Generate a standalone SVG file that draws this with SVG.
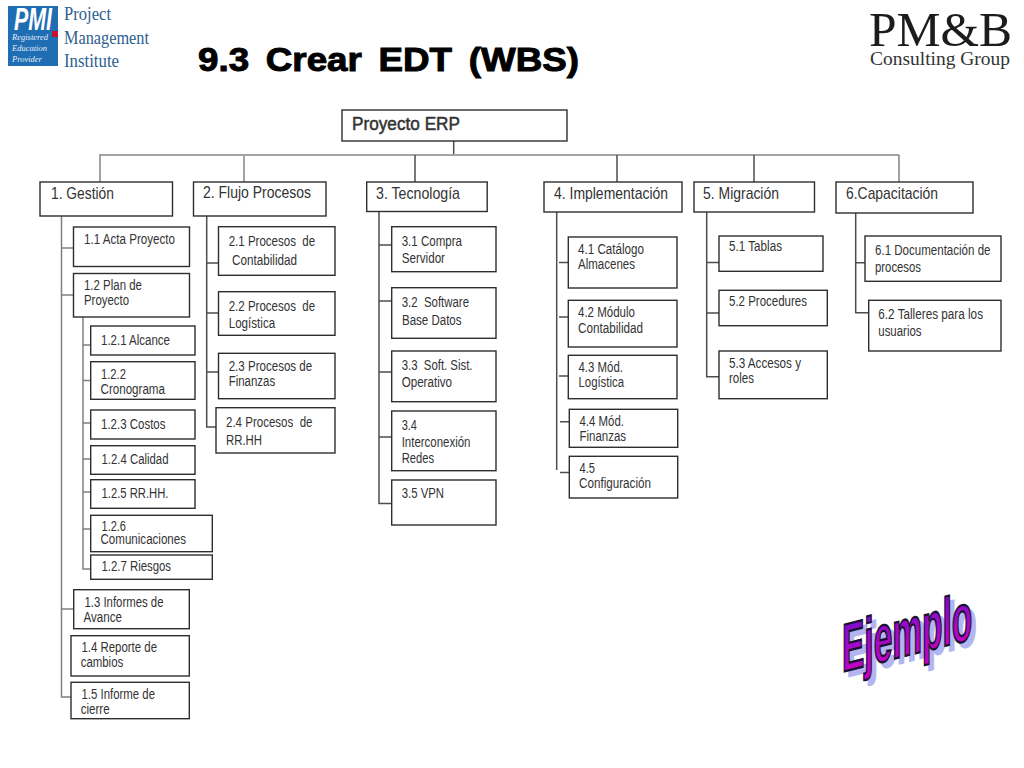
<svg xmlns="http://www.w3.org/2000/svg" width="1024" height="768" viewBox="0 0 1024 768">
<style>
rect.b{fill:#fff;stroke:#2e2e2e;stroke-width:1.4}
text{font-family:"Liberation Sans",Arial,sans-serif;fill:#333;white-space:pre}
.t{font-size:14px}
.h{font-size:17px}
#connectors path{fill:none;stroke:#4d4d4d;stroke-width:1.5}
#connectors path.g{stroke:#a3a3a3;stroke-width:2}
#connectors path.m{stroke:#808080;stroke-width:1.5}
.serif{font-family:"Liberation Serif",serif}
</style>
<defs>
<linearGradient id="ej" x1="0" y1="0" x2="0" y2="1"><stop offset="0" stop-color="#6a10d0"/><stop offset="0.55" stop-color="#a808c8"/><stop offset="1" stop-color="#d000c0"/></linearGradient>
</defs>
<rect width="1024" height="768" fill="#fff"/>

<g id="logo-pmi">
<rect x="8" y="6" width="50" height="60" fill="#1f6db3"/>
<rect x="52" y="31" width="6" height="6" fill="#c8102e"/>
<text x="14" y="30" font-size="31" font-weight="700" font-style="italic" textLength="38" lengthAdjust="spacingAndGlyphs" style="fill:#fff">PMI</text>
<text class="serif" x="12" y="40" font-size="8.5" font-style="italic" style="fill:#e6eef7">Registered</text>
<text class="serif" x="12" y="51" font-size="8.5" font-style="italic" style="fill:#e6eef7">Education</text>
<text class="serif" x="12" y="62" font-size="8.5" font-style="italic" style="fill:#e6eef7">Provider</text>
<text class="serif" x="64" y="20" font-size="19" textLength="47" lengthAdjust="spacingAndGlyphs" style="fill:#2d5f8f">Project</text>
<text class="serif" x="64" y="44" font-size="19" textLength="85" lengthAdjust="spacingAndGlyphs" style="fill:#2d5f8f">Management</text>
<text class="serif" x="64" y="67" font-size="19" textLength="55" lengthAdjust="spacingAndGlyphs" style="fill:#2d5f8f">Institute</text>
</g>

<g id="logo-pmb">
<text class="serif" x="869" y="46" font-size="49" textLength="143" lengthAdjust="spacingAndGlyphs" style="fill:#1c1c1c">PM&amp;B</text>
<text class="serif" x="870" y="65" font-size="19" textLength="140" lengthAdjust="spacingAndGlyphs" style="fill:#333">Consulting Group</text>
</g>

<text id="title" x="198" y="71" font-size="34" font-weight="700" word-spacing="6" textLength="381" lengthAdjust="spacingAndGlyphs" style="fill:#000;stroke:#000;stroke-width:1">9.3 Crear EDT (WBS)</text>

<g id="connectors">
<path class="g" d="M99 155H899M100 155V182M244 155V182"/>
<path d="M453.7 141V154M415 155V182M617 155V182M754 155V182"/>
<path class="m" d="M899 155V182"/>
<path class="m" d="M61.5 216V697H71M61.5 248H74M61.5 295H74M61.5 609H74"/>
<path class="m" d="M83 317V569H91M83 345H91M83 380.5H91M83 423H91M83 459H91M83 492H91M83 529H91"/>
<path d="M206.7 216V427H216M206.7 263H218M206.7 313H218M206.7 372H218"/>
<path d="M379 212V503.5H392M379 245H392M379 301H392M379 372H392M379 437H392"/>
<path d="M556.7 212V470M559 262.5H568M559 317H568M559 376H568M560 421.7H569M560 472.5H569"/>
<path d="M706.7 212V376.7H719M706.7 262.5H719M706.7 313H719"/>
<path d="M855.7 213V312.7H869M855.7 262.7H865"/>
</g>

<g id="n0"><rect class="b" x="342" y="110" width="225" height="31"/><text x="352" y="129.5" font-size="18" textLength="108" lengthAdjust="spacingAndGlyphs" style="stroke:#333;stroke-width:.5">Proyecto ERP</text></g>

<g id="n1"><rect class="b" x="40" y="182" width="132.5" height="34"/><text class="h" x="51" y="199" textLength="63" lengthAdjust="spacingAndGlyphs">1. Gestión</text></g>
<g id="n2"><rect class="b" x="193.5" y="182" width="132.5" height="34"/><text class="h" x="203" y="198" textLength="108" lengthAdjust="spacingAndGlyphs">2. Flujo Procesos</text></g>
<g id="n3"><rect class="b" x="366.7" y="182" width="120.5" height="29.5"/><text class="h" x="376" y="199" textLength="84" lengthAdjust="spacingAndGlyphs">3. Tecnología</text></g>
<g id="n4"><rect class="b" x="544" y="182" width="138" height="30"/><text class="h" x="554" y="199" textLength="114" lengthAdjust="spacingAndGlyphs">4. Implementación</text></g>
<g id="n5"><rect class="b" x="694" y="182" width="120.5" height="30"/><text class="h" x="703" y="199" textLength="76" lengthAdjust="spacingAndGlyphs">5. Migración</text></g>
<g id="n6"><rect class="b" x="836" y="182" width="137" height="31"/><text class="h" x="846" y="199" textLength="92" lengthAdjust="spacingAndGlyphs">6.Capacitación</text></g>

<g id="n1-1"><rect class="b" x="73.5" y="227" width="116" height="39.5"/><text class="t" x="84" y="244" textLength="91" lengthAdjust="spacingAndGlyphs">1.1 Acta Proyecto</text></g>
<g id="n1-2"><rect class="b" x="73.5" y="273.5" width="116" height="43.5"/><text class="t" x="84" y="290" textLength="58" lengthAdjust="spacingAndGlyphs">1.2 Plan de</text><text class="t" x="84" y="305" textLength="45" lengthAdjust="spacingAndGlyphs">Proyecto</text></g>
<g id="n1-2-1"><rect class="b" x="90.7" y="326" width="104.3" height="29"/><text class="t" x="101" y="344.5" textLength="69" lengthAdjust="spacingAndGlyphs">1.2.1 Alcance</text></g>
<g id="n1-2-2"><rect class="b" x="90.7" y="361.7" width="104.3" height="37.6"/><text class="t" x="101" y="379" textLength="25" lengthAdjust="spacingAndGlyphs">1.2.2</text><text class="t" x="100.5" y="394" textLength="64.5" lengthAdjust="spacingAndGlyphs">Cronograma</text></g>
<g id="n1-2-3"><rect class="b" x="90.7" y="410" width="104.3" height="29"/><text class="t" x="101" y="428.5" textLength="64.5" lengthAdjust="spacingAndGlyphs">1.2.3 Costos</text></g>
<g id="n1-2-4"><rect class="b" x="90.7" y="445.7" width="104.3" height="28.6"/><text class="t" x="101.5" y="464" textLength="67" lengthAdjust="spacingAndGlyphs">1.2.4 Calidad</text></g>
<g id="n1-2-5"><rect class="b" x="90.7" y="479.7" width="104.3" height="28.6"/><text class="t" x="101.5" y="498" textLength="67" lengthAdjust="spacingAndGlyphs">1.2.5 RR.HH.</text></g>
<g id="n1-2-6"><rect class="b" x="90.7" y="515.3" width="121.6" height="36.4"/><text class="t" x="101.5" y="531" textLength="24.5" lengthAdjust="spacingAndGlyphs">1.2.6</text><text class="t" x="100.5" y="544" textLength="85.5" lengthAdjust="spacingAndGlyphs">Comunicaciones</text></g>
<g id="n1-2-7"><rect class="b" x="90.7" y="555" width="121.6" height="24.3"/><text class="t" x="101.5" y="570.5" textLength="69.5" lengthAdjust="spacingAndGlyphs">1.2.7 Riesgos</text></g>
<g id="n1-3"><rect class="b" x="73.7" y="589.7" width="115.6" height="39"/><text class="t" x="84.5" y="606.7" textLength="79" lengthAdjust="spacingAndGlyphs">1.3 Informes de</text><text class="t" x="83.5" y="621.7" textLength="38.5" lengthAdjust="spacingAndGlyphs">Avance</text></g>
<g id="n1-4"><rect class="b" x="71" y="635.7" width="118.3" height="40.3"/><text class="t" x="81.5" y="652.3" textLength="75.5" lengthAdjust="spacingAndGlyphs">1.4 Reporte de</text><text class="t" x="80.7" y="667.3" textLength="42.5" lengthAdjust="spacingAndGlyphs">cambios</text></g>
<g id="n1-5"><rect class="b" x="71" y="682.3" width="118.3" height="36.4"/><text class="t" x="81.5" y="699.3" textLength="73.5" lengthAdjust="spacingAndGlyphs">1.5 Informe de</text><text class="t" x="80.7" y="714" textLength="29" lengthAdjust="spacingAndGlyphs">cierre</text></g>

<g id="n2-1"><rect class="b" x="218.5" y="226.7" width="116.5" height="48.6"/><text class="t" x="228.7" y="246" textLength="86.5" lengthAdjust="spacingAndGlyphs">2.1 Procesos  de</text><text class="t" x="232" y="265" textLength="65" lengthAdjust="spacingAndGlyphs">Contabilidad</text></g>
<g id="n2-2"><rect class="b" x="218.5" y="291.7" width="116.5" height="43.6"/><text class="t" x="228.7" y="311" textLength="86.5" lengthAdjust="spacingAndGlyphs">2.2 Procesos  de</text><text class="t" x="228.7" y="327.5" textLength="46.5" lengthAdjust="spacingAndGlyphs">Logística</text></g>
<g id="n2-3"><rect class="b" x="218.5" y="353.3" width="116.5" height="45.4"/><text class="t" x="228.7" y="370.7" textLength="83.5" lengthAdjust="spacingAndGlyphs">2.3 Procesos de</text><text class="t" x="228.7" y="386" textLength="46.5" lengthAdjust="spacingAndGlyphs">Finanzas</text></g>
<g id="n2-4"><rect class="b" x="216" y="407.7" width="119" height="45.3"/><text class="t" x="226" y="426.7" textLength="86.5" lengthAdjust="spacingAndGlyphs">2.4 Procesos  de</text><text class="t" x="226" y="445" textLength="36" lengthAdjust="spacingAndGlyphs">RR.HH</text></g>

<g id="n3-1"><rect class="b" x="391.7" y="226.7" width="104.3" height="45"/><text class="t" x="401.7" y="245.7" textLength="60.3" lengthAdjust="spacingAndGlyphs">3.1 Compra</text><text class="t" x="401.7" y="262.7" textLength="43.3" lengthAdjust="spacingAndGlyphs">Servidor</text></g>
<g id="n3-2"><rect class="b" x="391.7" y="287.7" width="104.3" height="50.6"/><text class="t" x="401.7" y="306.7" textLength="67.3" lengthAdjust="spacingAndGlyphs">3.2  Software</text><text class="t" x="402" y="325" textLength="59.5" lengthAdjust="spacingAndGlyphs">Base Datos</text></g>
<g id="n3-3"><rect class="b" x="391.7" y="351" width="104.3" height="50.7"/><text class="t" x="401.7" y="370" textLength="70.8" lengthAdjust="spacingAndGlyphs">3.3  Soft. Sist.</text><text class="t" x="401.7" y="386.7" textLength="50.3" lengthAdjust="spacingAndGlyphs">Operativo</text></g>
<g id="n3-4"><rect class="b" x="391.7" y="411" width="104.3" height="59.7"/><text class="t" x="401.7" y="430" textLength="15.3" lengthAdjust="spacingAndGlyphs">3.4</text><text class="t" x="401.7" y="446.7" textLength="68.8" lengthAdjust="spacingAndGlyphs">Interconexión</text><text class="t" x="401.7" y="463.3" textLength="32.3" lengthAdjust="spacingAndGlyphs">Redes</text></g>
<g id="n3-5"><rect class="b" x="391.7" y="480" width="104.3" height="45"/><text class="t" x="401.7" y="498.3" textLength="42.3" lengthAdjust="spacingAndGlyphs">3.5 VPN</text></g>

<g id="n4-1"><rect class="b" x="568.3" y="237" width="108.7" height="51"/><text class="t" x="578" y="254" textLength="66" lengthAdjust="spacingAndGlyphs">4.1 Catálogo</text><text class="t" x="578" y="269" textLength="57" lengthAdjust="spacingAndGlyphs">Almacenes</text></g>
<g id="n4-2"><rect class="b" x="568.3" y="300.3" width="108.7" height="46.7"/><text class="t" x="578" y="317.3" textLength="57" lengthAdjust="spacingAndGlyphs">4.2 Módulo</text><text class="t" x="578" y="332.7" textLength="65" lengthAdjust="spacingAndGlyphs">Contabilidad</text></g>
<g id="n4-3"><rect class="b" x="568.3" y="355.3" width="108.7" height="43.4"/><text class="t" x="578.5" y="372.3" textLength="44.5" lengthAdjust="spacingAndGlyphs">4.3 Mód.</text><text class="t" x="578.5" y="387.3" textLength="45.5" lengthAdjust="spacingAndGlyphs">Logística</text></g>
<g id="n4-4"><rect class="b" x="569.3" y="409.3" width="108.4" height="38"/><text class="t" x="579.5" y="426" textLength="44.5" lengthAdjust="spacingAndGlyphs">4.4 Mód.</text><text class="t" x="579.5" y="441" textLength="46.5" lengthAdjust="spacingAndGlyphs">Finanzas</text></g>
<g id="n4-5"><rect class="b" x="569.3" y="456.3" width="108.4" height="41.7"/><text class="t" x="579.5" y="473.3" textLength="15.5" lengthAdjust="spacingAndGlyphs">4.5</text><text class="t" x="579" y="488.3" textLength="72" lengthAdjust="spacingAndGlyphs">Configuración</text></g>

<g id="n5-1"><rect class="b" x="719" y="236" width="104" height="35.3"/><text class="t" x="729" y="251" textLength="53" lengthAdjust="spacingAndGlyphs">5.1 Tablas</text></g>
<g id="n5-2"><rect class="b" x="719" y="290.3" width="108.3" height="35.4"/><text class="t" x="729" y="305.7" textLength="78" lengthAdjust="spacingAndGlyphs">5.2 Procedures</text></g>
<g id="n5-3"><rect class="b" x="719" y="351" width="108.3" height="47.7"/><text class="t" x="729" y="367.7" textLength="72" lengthAdjust="spacingAndGlyphs">5.3 Accesos y</text><text class="t" x="729" y="383.3" textLength="25" lengthAdjust="spacingAndGlyphs">roles</text></g>

<g id="n6-1"><rect class="b" x="865" y="236" width="136" height="45.3"/><text class="t" x="875" y="255" textLength="115.5" lengthAdjust="spacingAndGlyphs">6.1 Documentación de</text><text class="t" x="875" y="271.7" textLength="46" lengthAdjust="spacingAndGlyphs">procesos</text></g>
<g id="n6-2"><rect class="b" x="868.7" y="300.3" width="132.3" height="50.7"/><text class="t" x="878.3" y="319" textLength="104.7" lengthAdjust="spacingAndGlyphs">6.2 Talleres para los</text><text class="t" x="878.3" y="336" textLength="43.2" lengthAdjust="spacingAndGlyphs">usuarios</text></g>

<g id="ejemplo">
<text transform="matrix(.335 -.085 0 .68 846.5 677)" font-size="100" font-weight="700" style="fill:#b4b4f0;stroke:#b4b4f0;stroke-width:1.6;vector-effect:non-scaling-stroke">Ejemplo</text>
<text transform="matrix(.335 -.085 0 .68 842 672)" font-size="100" font-weight="700" style="fill:url(#ej);stroke:#1a1030;stroke-width:1.8;vector-effect:non-scaling-stroke">Ejemplo</text>
</g>
</svg>
